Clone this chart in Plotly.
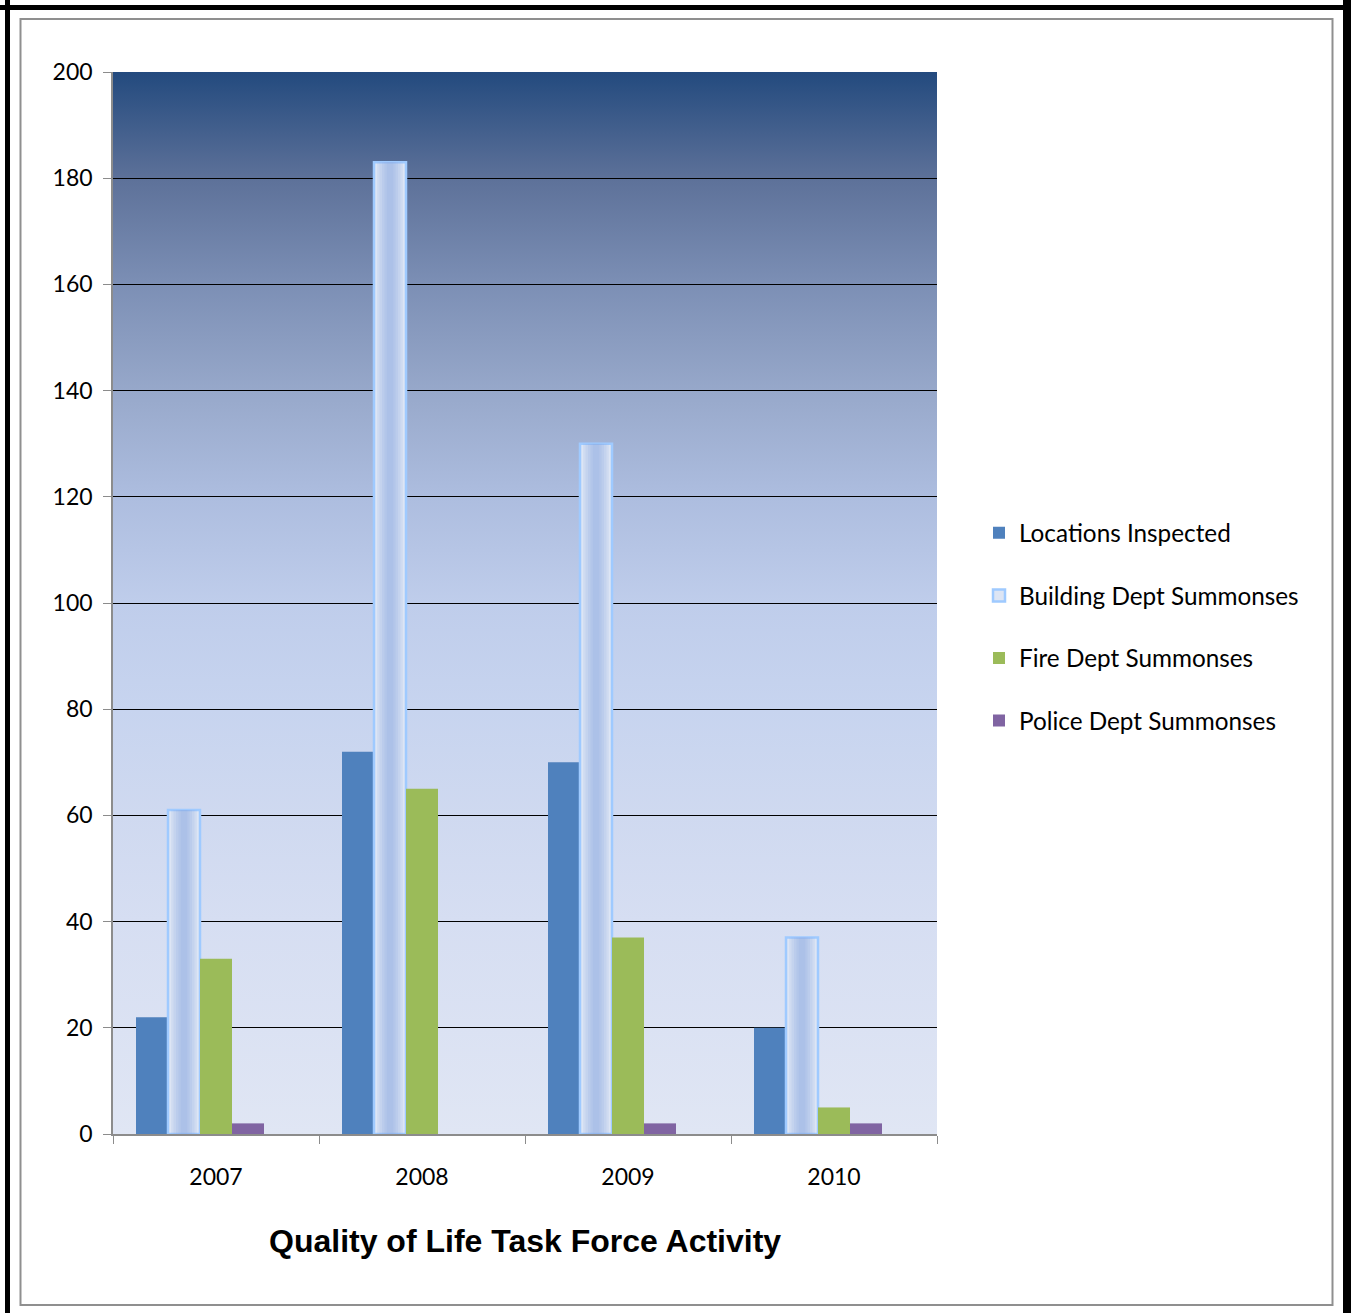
import base64
import plotly.graph_objects as go

years = ["2007", "2008", "2009", "2010"]
locations_inspected = [22, 72, 70, 20]
building_summonses = [61, 183, 130, 37]
fire_summonses = [33, 65, 37, 5]
police_summonses = [2, 0, 2, 2]
y_ticks = [0, 20, 40, 60, 80, 100, 120, 140, 160, 180, 200]

W, H = 1351, 1313
L, R, T, B = 113, 937, 72, 1134

def px(x):
    return (x - L) / (R - L)

def py(y):
    return (B - y) / (B - T)

slot = 32 / 206
start = -2.5 * slot

fig = go.Figure()

def add_bar(name, vals, color, idx, line_color=None, line_w=0, group=None, show=True, frac=1.0):
    w = slot * frac
    center = start + (idx + 0.5) * slot
    fig.add_trace(go.Bar(
        x=years, y=vals, name=name, width=w, offset=center - w / 2,
        marker=dict(color=color, line=dict(color=line_color or color, width=line_w)),
        legendgroup=group or name, showlegend=show,
        hoverinfo="y",
    ))

add_bar("Locations Inspected", locations_inspected, "#4f81bd", 0)
add_bar("Building Dept Summonses", building_summonses, "#dde5f4", 1, line_color="#9fcaff", line_w=2.5)
for f in [0.8, 0.65, 0.5, 0.35, 0.2]:
    add_bar("Building Dept Summonses", building_summonses, "rgba(140,170,226,0.17)", 1,
            group="Building Dept Summonses", show=False, frac=f)
add_bar("Fire Dept Summonses", fire_summonses, "#9bbb59", 2)
add_bar("Police Dept Summonses", police_summonses, "#8064a2", 3)

stops = [(0, "#234a7e"), (0.1, "#5d7199"), (0.2, "#7c8fb5"), (0.3, "#97a8ca"), (0.4, "#adbddf"),
         (0.5, "#bfcdeb"), (0.6, "#c7d4ef"), (0.7, "#cfd9f0"), (0.8, "#d6def2"), (0.9, "#dbe2f3"), (1, "#e0e6f4")]
stop_xml = "".join(f"<stop offset='{o}' stop-color='{c}'/>" for o, c in stops)
svg = ("<svg xmlns='http://www.w3.org/2000/svg' width='100' height='100' viewBox='0 0 100 100' preserveAspectRatio='none'>"
       "<defs><linearGradient id='g' x1='0' y1='0' x2='0' y2='1'>" + stop_xml +
       "</linearGradient></defs><rect width='100' height='100' fill='url(#g)'/></svg>")
src = "data:image/svg+xml;base64," + base64.b64encode(svg.encode()).decode()

shapes = [
    dict(type="line", xref="paper", yref="paper", x0=px(7.5), x1=px(7.5), y0=py(0), y1=py(H + 10), line=dict(color="black", width=5)),
    dict(type="line", xref="paper", yref="paper", x0=px(0), x1=px(W), y0=py(7.5), y1=py(7.5), line=dict(color="black", width=5)),
    dict(type="line", xref="paper", yref="paper", x0=px(1347), x1=px(1347), y0=py(0), y1=py(H + 10), line=dict(color="black", width=8)),
    dict(type="rect", xref="paper", yref="paper", x0=px(20.5), x1=px(1332.5), y0=py(19), y1=py(1305), line=dict(color="#8f8f8f", width=2)),
]

font = "Lato, Calibri, sans-serif"
fig.update_layout(
    width=W, height=H,
    margin=dict(l=L, r=W - R, t=T, b=H - B),
    paper_bgcolor="white", plot_bgcolor="#dfe5f3",
    barmode="overlay",
    font=dict(family=font, size=23, color="black"),
    images=[dict(source=src, xref="paper", yref="paper", x=0, y=1, sizex=1, sizey=1,
                 sizing="stretch", layer="below", xanchor="left", yanchor="top")],
    shapes=shapes,
    legend=dict(x=px(979), y=py(627), xanchor="left", yanchor="middle", traceorder="grouped",
                tracegroupgap=28, font=dict(family=font, size=24.3, color="black"), bgcolor="rgba(0,0,0,0)"),
    annotations=[dict(text="<b>Quality of Life Task Force Activity</b>", xref="paper", yref="paper",
                      x=0.5, y=py(1241), xanchor="center", yanchor="middle", showarrow=False,
                      font=dict(family="Liberation Sans, Arial, sans-serif", size=32, color="black"))],
    showlegend=True,
)
fig.update_xaxes(type="category", showline=True, linecolor="#8c8c8c", linewidth=1.5, ticks="outside",
                 tickson="boundaries", ticklen=8, tickcolor="#8c8c8c", showgrid=False,
                 tickfont=dict(family=font, size=23), ticklabelstandoff=22, range=[-0.5, 3.5])
fig.update_yaxes(range=[0, 200], tickvals=y_ticks, showline=True, linecolor="#8c8c8c", linewidth=1.5,
                 ticks="outside", ticklen=8, tickcolor="#8c8c8c", showgrid=True, gridcolor="black",
                 gridwidth=1, zeroline=False, tickfont=dict(family=font, size=23), ticklabelstandoff=6)

fig.write_html("out.html")
